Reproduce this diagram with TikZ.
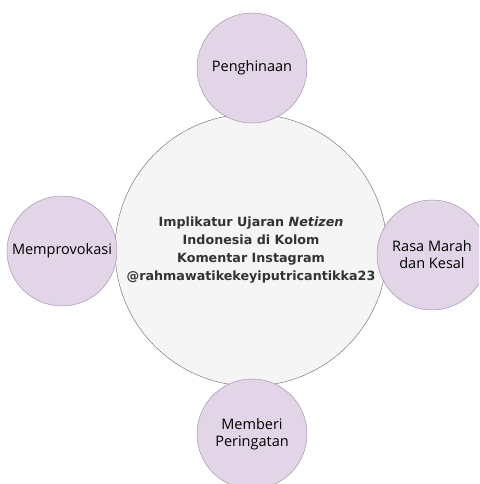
\documentclass[tikz,border=0pt]{standalone}
\usepackage{fontspec}
\usepackage{xcolor}
\setmainfont{Open Sans}
\newfontfamily\judulfont{DejaVu Sans}
\definecolor{ungu}{HTML}{E1D5E7}
\definecolor{unguGaris}{HTML}{9A86A6}
\definecolor{abu}{HTML}{F5F5F5}
\definecolor{abuGaris}{HTML}{666666}

\begin{document}
\begin{tikzpicture}[x=1pt, y=-1pt,
    kecil/.style={circle, draw=unguGaris, fill=ungu, minimum size=110pt, inner sep=0pt, align=center,
        font=\fontsize{14.5}{17}\selectfont},
    pusat/.style={circle, draw=abuGaris, fill=abu, minimum size=272pt, inner sep=0pt, align=center,
        text=black!80, font=\judulfont\bfseries\fontsize{12.7}{18}\selectfont}]
    \useasboundingbox (0,0) rectangle (479,484);
    \clip (0,0) rectangle (479,484);
    \node[pusat] (pusat) at (251,250) {Implikatur Ujaran \textit{Netizen}\\Indonesia di Kolom\\Komentar Instagram\\@rahmawatikekeyiputricantikka23};
    \node[kecil] (atas) at (252,68) {Penghinaan};
    \node[kecil] (kiri) at (62,251) {Memprovokasi};
    \node[kecil] (kanan) at (432,255) {Rasa Marah\\dan Kesal};
    \node[kecil] (bawah) at (252,434) {Memberi\\Peringatan};
\end{tikzpicture}
\end{document}
